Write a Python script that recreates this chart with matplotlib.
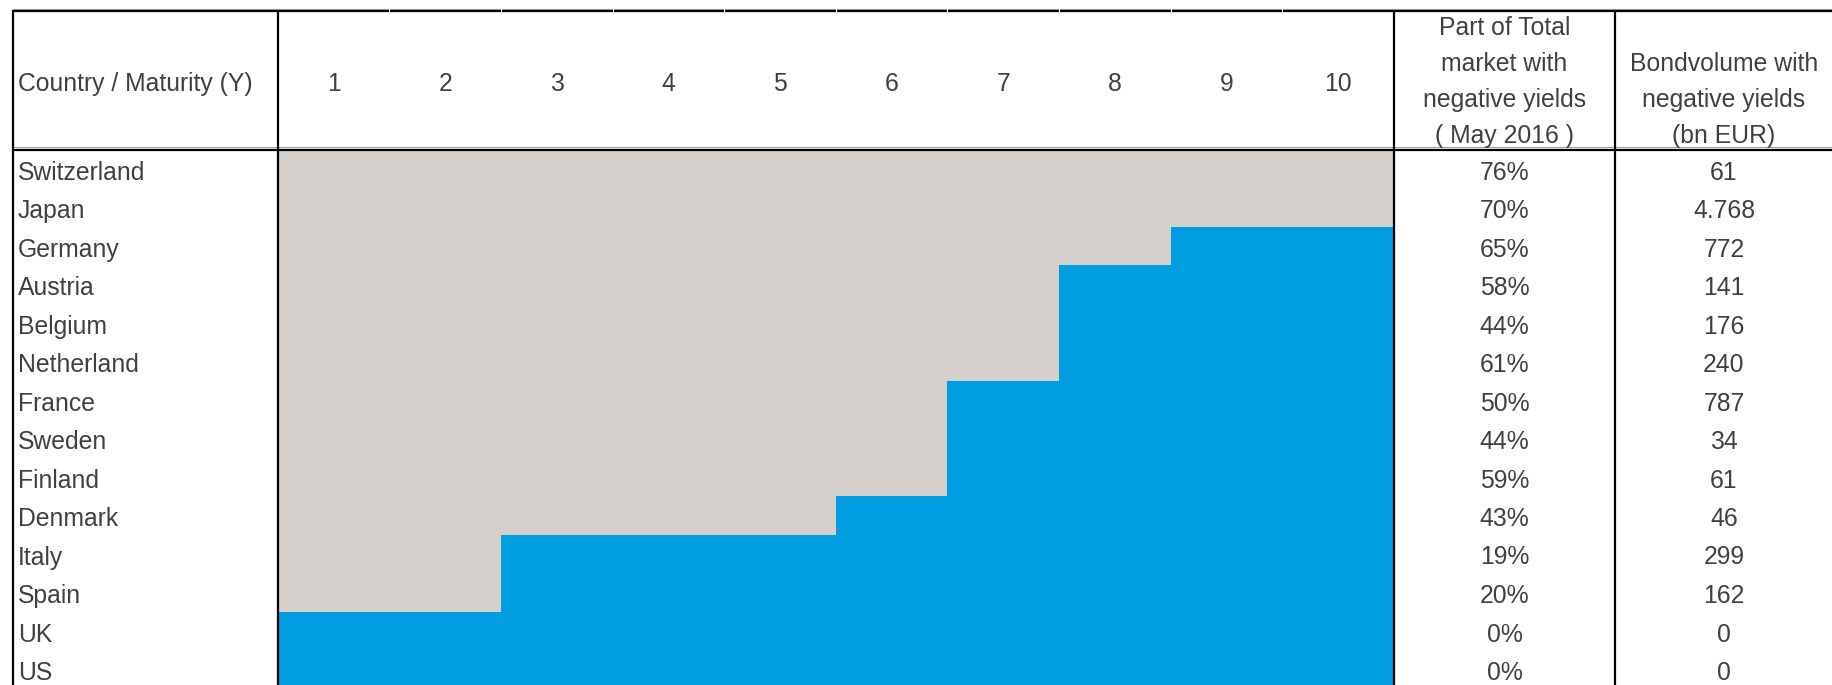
import matplotlib.pyplot as plt

plt.rcParams['font.family'] = ['Liberation Sans', 'DejaVu Sans']

countries = ['Switzerland', 'Japan', 'Germany', 'Austria', 'Belgium', 'Netherland',
             'France', 'Sweden', 'Finland', 'Denmark', 'Italy', 'Spain', 'UK', 'US']
maturities = [1, 2, 3, 4, 5, 6, 7, 8, 9, 10]
# years of maturity with negative yields, per country
neg_years = [10, 10, 8, 7, 7, 7, 6, 6, 6, 5, 2, 2, 0, 0]
neg_share = ['76%', '70%', '65%', '58%', '44%', '61%', '50%', '44%', '59%', '43%',
             '19%', '20%', '0%', '0%']
neg_volume = ['61', '4.768', '772', '141', '176', '240', '787', '34', '61', '46',
              '299', '162', '0', '0']
share_header = ['Part of Total', 'market with', 'negative yields', '( May 2016 )']
volume_header = ['Bondvolume with', 'negative yields', '(bn EUR)']

NEG_COLOR = '#D5D0CC'
POS_COLOR = '#009EE0'
TXT = '#404040'
FS = 17.8

W, H = 1833, 685
fig = plt.figure(figsize=(W / 100, H / 100), dpi=100)
ax = fig.add_axes([0, 0, 1, 1])
ax.set_xlim(0, W)
ax.set_ylim(H, 0)
ax.axis('off')

# table layout in pixels
x_left = 12.7
x_grid0 = 277.7
x_grid1 = 1394.0
x_div = 1615.0
x_right = W + 5
y_top = 11.0
y_head = 149.5
row_h = 38.5
col_w = (x_grid1 - x_grid0) / len(maturities)

# maturity cells: gray = negative yields, blue = positive
for i, n in enumerate(neg_years):
    top = y_head + i * row_h
    ax.barh(top, n * col_w, left=x_grid0, height=row_h, align='edge',
            color=NEG_COLOR, linewidth=0)
    ax.barh(top, (len(maturities) - n) * col_w, left=x_grid0 + n * col_w,
            height=row_h, align='edge', color=POS_COLOR, linewidth=0)

# header
ax.text(x_left + 5, 91, 'Country / Maturity (Y)', fontsize=FS, color=TXT,
        ha='left', va='baseline')
for k, m in enumerate(maturities):
    ax.text(x_grid0 + (k + 0.5) * col_w, 91, str(m), fontsize=FS, color=TXT,
            ha='center', va='baseline')

line_pitch = 35.8
base_last = 142.5
xc3 = (x_grid1 + x_div) / 2
xc4 = 1724.0
for j, s in enumerate(share_header):
    yb = base_last - (len(share_header) - 1 - j) * line_pitch
    ax.text(xc3, yb, s, fontsize=FS, color=TXT, ha='center', va='baseline')
for j, s in enumerate(volume_header):
    yb = base_last - (len(volume_header) - 1 - j) * line_pitch
    ax.text(xc4, yb, s, fontsize=FS, color=TXT, ha='center', va='baseline')

# body rows
for i, name in enumerate(countries):
    yb = y_head + i * row_h + 30
    ax.text(x_left + 5, yb, name, fontsize=FS, color=TXT, ha='left', va='baseline')
    ax.text(xc3, yb, neg_share[i], fontsize=FS, color=TXT, ha='center', va='baseline')
    ax.text(xc4, yb, neg_volume[i], fontsize=FS, color=TXT, ha='center', va='baseline')

# borders
lw = 1.6
ax.plot([x_left, x_right], [y_top - 2, y_top - 2], color='#A0A0A0', lw=0.8)
ax.plot([x_left, x_right], [y_head - 2.2, y_head - 2.2], color='#A0A0A0', lw=0.8)
ax.plot([x_left - 0.7, x_right], [y_top, y_top], color='black', lw=lw,
        solid_capstyle='butt')
ax.plot([x_left - 0.7, x_right], [y_head, y_head], color='black', lw=lw,
        solid_capstyle='butt')
for x in (x_left, x_grid0, x_grid1, x_div):
    ax.plot([x, x], [y_top - 0.7, H + 5], color='black', lw=lw,
            solid_capstyle='butt')
# small white gaps in the top border between maturity columns
for k in range(1, len(maturities)):
    xk = x_grid0 + k * col_w
    ax.plot([xk, xk], [y_top - 2.5, y_top + 1.2], color='white', lw=0.8)

fig.savefig('out.png', dpi=100)
